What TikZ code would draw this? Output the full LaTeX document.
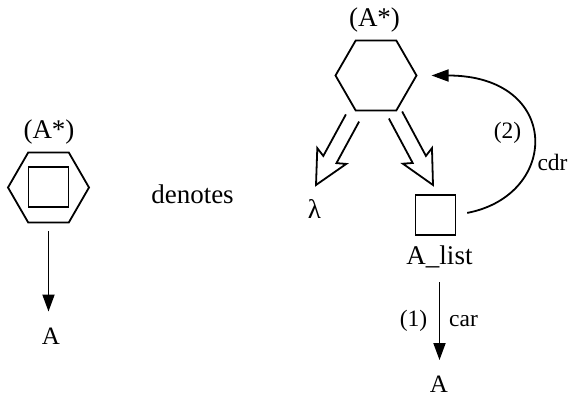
\documentclass[tikz,border=0pt]{standalone}
\usepackage{fontspec}
\setmainfont{Liberation Serif}
\usetikzlibrary{shapes.geometric,arrows.meta,calc}
\newcommand{\hollowarrow}[2]{%
  \coordinate (#1n) at ($(#2)!29pt!(#1)$);
  \coordinate (#1b) at ($(#2)!33pt!(#1)$);
  \draw[hollow] ($(#1)!7.5pt!90:(#2)$) -- ($(#1n)!7.5pt!90:(#2)$) -- ($(#1b)!16.5pt!90:(#2)$) -- (#2)
     -- ($(#1b)!16.5pt!-90:(#2)$) -- ($(#1n)!7.5pt!-90:(#2)$) -- ($(#1)!7.5pt!-90:(#2)$);
}
\tikzset{
  lbl/.style={font=\fontsize{27}{30}\selectfont, inner sep=0pt},
  midlbl/.style={font=\fontsize{25}{28}\selectfont, inner sep=0pt},
  small/.style={font=\fontsize{23.5}{26}\selectfont, inner sep=0pt},
  hexa/.style={draw, regular polygon, regular polygon sides=6, minimum size=81pt, inner sep=0pt, line width=1.8pt},
  box/.style={draw, rectangle, minimum size=40pt, inner sep=0pt, line width=1.8pt},
  arr/.style={line width=1.8pt, -{Triangle[length=17pt,width=12pt]}},
  hollow/.style={line width=1.8pt, line join=miter}
}
\begin{document}
\begin{tikzpicture}[x=1pt,y=-1pt]
\useasboundingbox (0,0) rectangle (568,401);
% left figure
\node[lbl] (tL) at (49,132) {(A*)};
\node[hexa] (hexL) at (48.5,187.5) {};
\node[box] (sqL) at (48.5,187) {};
\node[midlbl] (aL) at (51,336) {A};
\draw[arr, shorten <=8pt, shorten >=16pt] (hexL.south) -- (hexL.south |- aL.north);
% denotes
\node[lbl] (den) at (192.5,194) {denotes};
% right figure
\node[lbl] (tR) at (374.5,20) {(A*)};
\node[hexa] (hexR) at (376,75.5) {};
\node[lbl] (lam) at (314.5,209) {λ};
\node[box] (sqR) at (435.5,215) {};
\node[lbl] (alist) at (439.5,257) {A\_list};
\node[midlbl] (aR) at (439,384.5) {A};
\node[small] (l1) at (413.5,321) {(1)};
\node[small, anchor=base] (car) at (463.5,326) {car};
\node[small] (l2) at (507.5,132.5) {(2)};
\node[small, anchor=base] (cdr) at (552.5,171) {cdr};
\draw[arr, shorten <=14pt, shorten >=16pt] (alist.south) -- (alist.south |- aR.north);
\draw[arr, shorten <=11pt, shorten >=14pt] (sqR.east) .. controls +(104,-20) and +(144,0) .. (hexR.east);
% hollow arrows
\coordinate (sa) at (352.5,118);
\coordinate (ta) at (316,185);
\coordinate (sb) at (395.5,115);
\coordinate (tb) at (433,185);
\hollowarrow{sa}{ta}
\hollowarrow{sb}{tb}
\end{tikzpicture}
\end{document}
